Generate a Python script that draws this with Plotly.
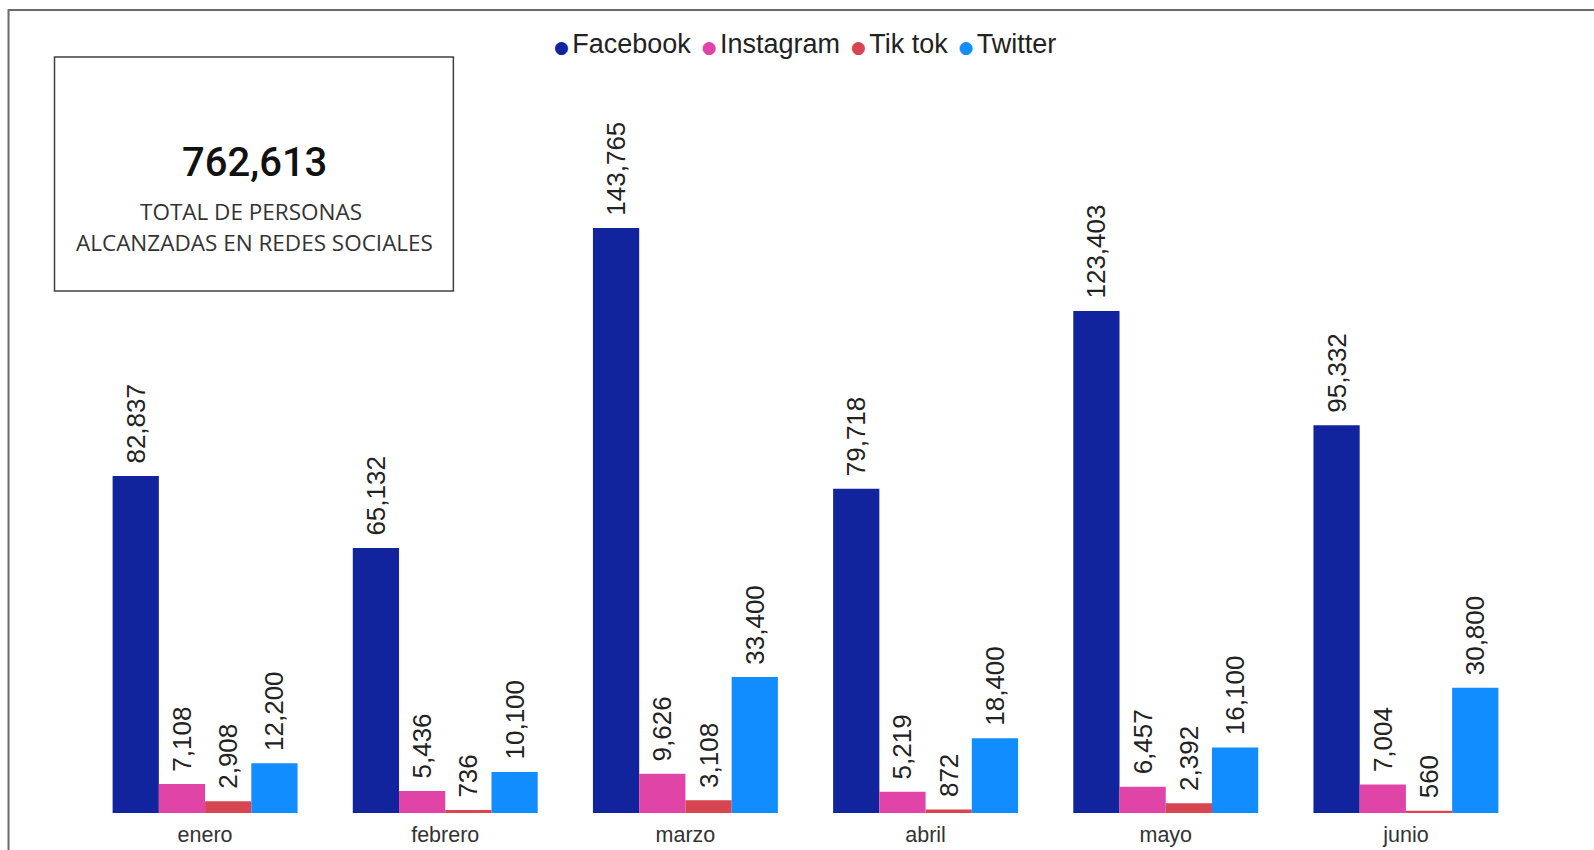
import plotly.graph_objects as go

# ---- data ----
months = ["enero", "febrero", "marzo", "abril", "mayo", "junio"]
facebook = [82837, 65132, 143765, 79718, 123403, 95332]
instagram = [7108, 5436, 9626, 5219, 6457, 7004]
tiktok = [2908, 736, 3108, 872, 2392, 560]
twitter = [12200, 10100, 33400, 18400, 16100, 30800]
series_names = ["Facebook", "Instagram", "Tik tok", "Twitter"]
series_values = [facebook, instagram, tiktok, twitter]
series_colors = ["#12239E", "#E044A7", "#D64550", "#118DFF"]
card_label_1 = "TOTAL DE PERSONAS"
card_label_2 = "ALCANZADAS EN REDES SOCIALES"

total = sum(sum(v) for v in series_values)

# ---- layout geometry ----
W, H = 1594, 850
L, R, T, B = 84.5, 68, 60, 37.3
pw = W - L - R
ph = H - T - B


def px(x):
    return (x - L) / pw


def py(y):
    return (H - B - y) / ph


# y scale: tallest bar height in pixels
ymax = max(facebook) * ph / 584.7

fig = go.Figure()
for name, vals, col in zip(series_names, series_values, series_colors):
    fig.add_trace(go.Bar(
        x=months, y=vals, name=name, marker=dict(color=col, line=dict(width=0)),
        texttemplate="\u00a0\u200a%{y:,}", textposition="outside", textangle=-90,
        textfont=dict(family="Liberation Sans, Arial", size=26, color="#222222"),
        cliponaxis=False, constraintext="none",
    ))

SP = "<span style='font-family:DejaVu Sans;font-size:17px'>\u2009</span>"
legend_text = ("\u00a0" + SP).join(
    f"<span style='color:{c};font-family:DejaVu Sans;font-size:17px'>\u25CF\u2009</span>{n}"
    for n, c in zip(series_names, series_colors)
)

annotations = [
    dict(text=legend_text, x=px(805), y=py(44), xref="paper", yref="paper",
         xanchor="center", yanchor="middle", showarrow=False,
         font=dict(family="Liberation Sans, Arial", size=27, color="#222222")),
    dict(text=f"{total:,}", x=px(254), y=py(162), xref="paper", yref="paper",
         xanchor="center", yanchor="middle", showarrow=False,
         font=dict(family="Roboto", size=40, color="#111111", weight=500)),
    dict(text=card_label_1, x=px(251), y=py(211), xref="paper", yref="paper",
         xanchor="center", yanchor="middle", showarrow=False,
         font=dict(family="Open Sans", size=22.5, color="#333333")),
    dict(text=card_label_2, x=px(254), y=py(242), xref="paper", yref="paper",
         xanchor="center", yanchor="middle", showarrow=False,
         font=dict(family="Open Sans", size=22.5, color="#333333")),
]

shapes = [
    dict(type="rect", xref="paper", yref="paper",
         x0=px(8), x1=px(1610), y0=py(10), y1=py(870),
         line=dict(color="#6b6b6b", width=2), fillcolor="rgba(0,0,0,0)", layer="below"),
    dict(type="rect", xref="paper", yref="paper",
         x0=px(54), x1=px(453), y0=py(57), y1=py(291),
         line=dict(color="#404040", width=1.5), fillcolor="rgba(0,0,0,0)"),
]

fig.update_layout(
    width=W, height=H,
    margin=dict(l=L, r=R, t=T, b=B, autoexpand=False),
    paper_bgcolor="white", plot_bgcolor="white",
    barmode="group", bargap=0.23, bargroupgap=0,
    showlegend=False,
    annotations=annotations, shapes=shapes,
    xaxis=dict(showgrid=False, zeroline=False, showline=False,
               ticks="outside", ticklen=2, tickcolor="rgba(0,0,0,0)",
               tickfont=dict(family="Liberation Sans, Arial", size=21.5, color="#333333"),
               automargin=False),
    yaxis=dict(visible=False, range=[0, ymax], showgrid=False, zeroline=False),
)

fig.write_html("out.html", config={"displayModeBar": False},
               post_script="document.body.style.margin='0px';document.body.style.overflow='hidden';")
